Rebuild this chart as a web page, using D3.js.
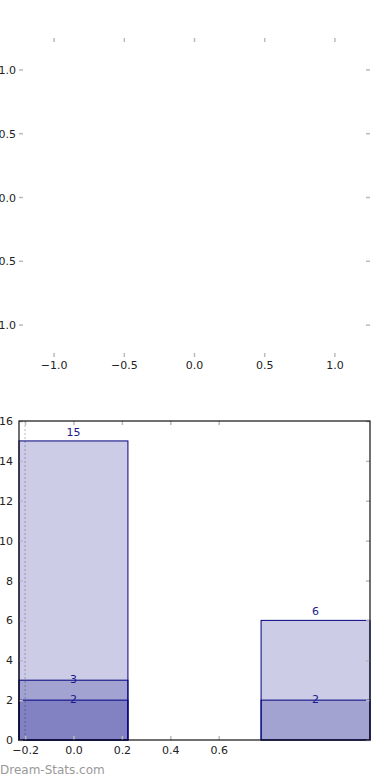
<!DOCTYPE html>
<html>
<head>
<meta charset="utf-8">
<script src="https://cdn.jsdelivr.net/npm/d3@7"></script>
<style>
  body { margin: 0; background: #fff; }
  svg { display: block; font-family: "DejaVu Sans", sans-serif; }
</style>
</head>
<body>
<div class="canvas"></div>
<script>
// data
const topTicks = [-1.0, -0.5, 0.0, 0.5, 1.0];
const barCenters = [0, 1];
const layerValues = [[15, 3, 2], [6, 2]];   // overlapping bars per group
const xTicks = [-0.2, 0.0, 0.2, 0.4, 0.6];
const yTicks = [0, 2, 4, 6, 8, 10, 12, 14, 16];
const barWidth = 0.45;

const svg = d3.select('.canvas')
  .append('svg')
    .attr('width', 390)
    .attr('height', 780);

const fmt = d => d3.format('.1f')(d).replace('-', '\u2212');
const tickColor = '#bbb';

// ---- top, empty panel ----
const tx = d3.scaleLinear().domain([-1.25, 1.25]).range([19, 370]);
const ty = d3.scaleLinear().domain([-1.25, 1.25]).range([357, 38]);

const topPanel = svg.append('g');
topTicks.forEach(t => {
  topPanel.append('line').attr('x1', tx(t)).attr('x2', tx(t)).attr('y1', 38).attr('y2', 42)
    .attr('stroke', tickColor).attr('stroke-width', 1.5);
  topPanel.append('line').attr('x1', tx(t)).attr('x2', tx(t)).attr('y1', 353).attr('y2', 357)
    .attr('stroke', tickColor).attr('stroke-width', 1.5);
  topPanel.append('line').attr('x1', 19).attr('x2', 23).attr('y1', ty(t)).attr('y2', ty(t))
    .attr('stroke', tickColor).attr('stroke-width', 1.5);
  topPanel.append('line').attr('x1', 366).attr('x2', 370).attr('y1', ty(t)).attr('y2', ty(t))
    .attr('stroke', tickColor).attr('stroke-width', 1.5);
  topPanel.append('text').attr('x', tx(t)).attr('y', 369).attr('text-anchor', 'middle')
    .attr('font-size', 11).attr('fill', '#222').text(fmt(t));
  topPanel.append('text').attr('x', 16).attr('y', ty(t) + 4).attr('text-anchor', 'end')
    .attr('font-size', 11).attr('fill', '#222').text(fmt(t));
});

// ---- bottom bar panel ----
const x = d3.scaleLinear().domain([-0.225, 1.225]).range([19, 370]);
const y = d3.scaleLinear().domain([0, 16]).range([740, 421]);

const graph = svg.append('g');

// dotted reference line at -0.2
graph.append('line')
  .attr('x1', x(-0.2)).attr('x2', x(-0.2)).attr('y1', y(16)).attr('y2', y(0))
  .attr('stroke', '#bbb').attr('stroke-dasharray', '2,2');

barCenters.forEach((c, i) => {
  const maxV = d3.max(layerValues[i]);
  layerValues[i].forEach(v => {
    graph.append('rect')
      .attr('x', x(c - barWidth / 2))
      .attr('y', y(v))
      .attr('width', x(c + barWidth / 2) - x(c - barWidth / 2))
      .attr('height', y(0) - y(v))
      .attr('fill', '#000080').attr('fill-opacity', 0.2)
      .attr('stroke', '#000080').attr('stroke-width', 1);
  });
  layerValues[i].forEach(v => {
    graph.append('text')
      .attr('x', x(c)).attr('y', y(v) + (v === maxV ? -9 : -1))
      .attr('dy', '0.35em')
      .attr('text-anchor', 'middle').attr('font-size', 11)
      .attr('fill', '#1a1a8c').text(v);
  });
});

// axes with inward ticks
const xAxis = d3.axisBottom(x).tickValues(xTicks).tickSize(-4).tickPadding(6).tickFormat(fmt);
const xAxisTop = d3.axisTop(x).tickValues(xTicks).tickSize(-4).tickFormat('');
const yAxis = d3.axisLeft(y).tickValues(yTicks).tickSize(-4).tickPadding(6);
const yAxisRight = d3.axisRight(y).tickValues(yTicks).tickSize(-4).tickFormat('');

graph.append('g').attr('transform', 'translate(0,740)').call(xAxis);
graph.append('g').attr('transform', 'translate(0,421)').call(xAxisTop);
graph.append('g').attr('transform', 'translate(19,0)').call(yAxis);
graph.append('g').attr('transform', 'translate(370,0)').call(yAxisRight);

graph.selectAll('.tick line').attr('stroke', tickColor).attr('stroke-width', 1.5);
graph.selectAll('.domain').remove();
graph.selectAll('.tick text').attr('font-size', 11).attr('fill', '#222')
  .attr('font-family', '"DejaVu Sans", sans-serif');

// frame
graph.append('rect')
  .attr('x', 19).attr('y', 421).attr('width', 351).attr('height', 319)
  .attr('fill', 'none').attr('stroke', '#111').attr('stroke-width', 1.2);

// watermark
svg.append('text').attr('x', 0).attr('y', 774)
  .attr('font-size', 12).attr('fill', '#999')
  .text('Dream-Stats.com');
</script>
</body>
</html>
